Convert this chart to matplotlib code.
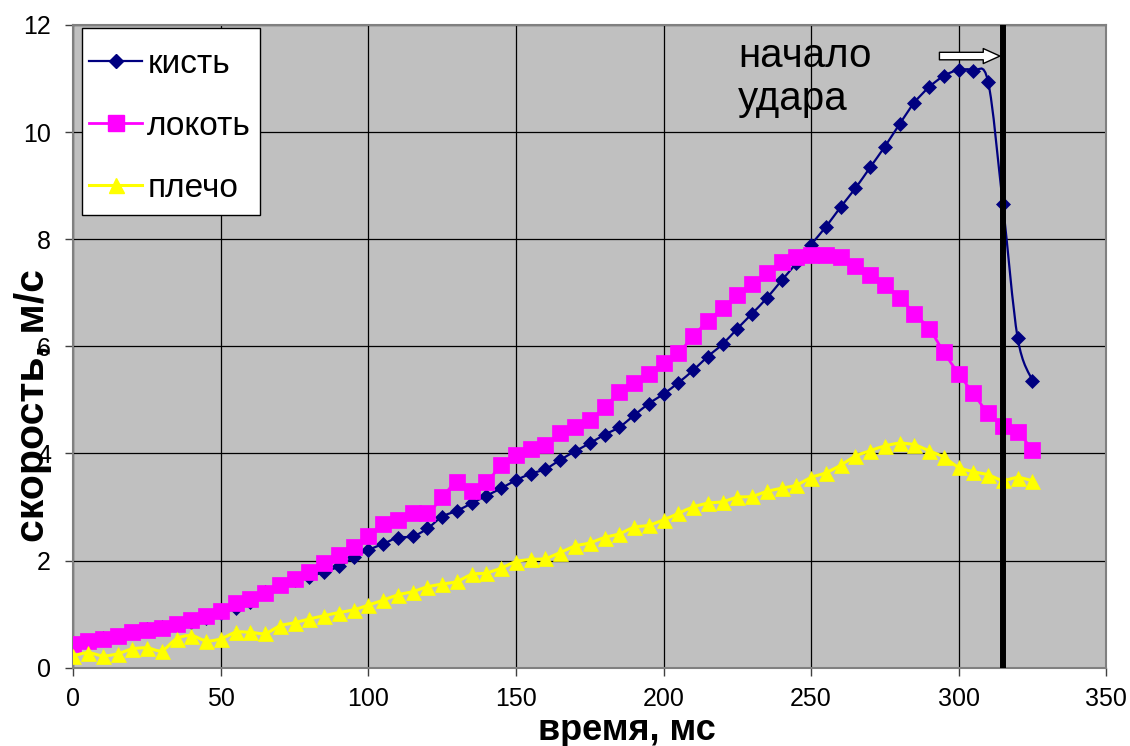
import matplotlib
matplotlib.use('Agg')
import matplotlib.pyplot as plt
from matplotlib.path import Path
from matplotlib.patches import PathPatch, Rectangle
from matplotlib.lines import Line2D

plt.rcParams['font.family'] = ['Liberation Sans', 'DejaVu Sans']

# время, мс (отсчёты через 5 мс)
time_ms = [0, 5, 10, 15, 20, 25, 30, 35, 40, 45, 50, 55, 60, 65, 70, 75, 80, 85, 90, 95,
           100, 105, 110, 115, 120, 125, 130, 135, 140, 145, 150, 155, 160, 165, 170, 175,
           180, 185, 190, 195, 200, 205, 210, 215, 220, 225, 230, 235, 240, 245, 250, 255,
           260, 265, 270, 275, 280, 285, 290, 295, 300, 305, 310, 315, 320, 325]

kist = [0.45, 0.49, 0.56, 0.60, 0.66, 0.72, 0.76, 0.80, 0.86, 0.93, 1.02, 1.11, 1.23, 1.42,
        1.54, 1.64, 1.70, 1.79, 1.89, 2.06, 2.20, 2.31, 2.43, 2.45, 2.60, 2.82, 2.93, 3.07,
        3.21, 3.35, 3.50, 3.62, 3.71, 3.88, 4.04, 4.19, 4.35, 4.49, 4.71, 4.93, 5.11, 5.32,
        5.55, 5.81, 6.04, 6.33, 6.61, 6.90, 7.23, 7.55, 7.90, 8.23, 8.60, 8.95, 9.34, 9.73,
        10.15, 10.55, 10.84, 11.05, 11.16, 11.15, 10.94, 8.65, 6.16, 5.36]

lokot = [0.45, 0.50, 0.54, 0.60, 0.66, 0.70, 0.75, 0.82, 0.89, 0.97, 1.06, 1.21, 1.29, 1.39,
         1.54, 1.65, 1.78, 1.96, 2.10, 2.25, 2.45, 2.69, 2.75, 2.88, 2.88, 3.18, 3.46, 3.29,
         3.46, 3.78, 3.97, 4.09, 4.15, 4.38, 4.50, 4.62, 4.86, 5.14, 5.32, 5.49, 5.69, 5.87,
         6.19, 6.47, 6.71, 6.95, 7.16, 7.36, 7.58, 7.67, 7.70, 7.70, 7.67, 7.50, 7.33, 7.15,
         6.91, 6.61, 6.33, 5.89, 5.49, 5.12, 4.75, 4.52, 4.40, 4.06]

plecho = [0.22, 0.28, 0.22, 0.26, 0.35, 0.37, 0.32, 0.54, 0.60, 0.50, 0.54, 0.66, 0.66, 0.64,
          0.78, 0.84, 0.91, 0.97, 1.03, 1.08, 1.17, 1.26, 1.36, 1.42, 1.51, 1.56, 1.61, 1.74,
          1.77, 1.86, 1.98, 2.02, 2.04, 2.15, 2.27, 2.33, 2.43, 2.50, 2.62, 2.66, 2.76, 2.88,
          3.00, 3.07, 3.10, 3.18, 3.20, 3.29, 3.35, 3.41, 3.55, 3.64, 3.78, 3.95, 4.05, 4.14,
          4.19, 4.16, 4.05, 3.93, 3.74, 3.66, 3.60, 3.50, 3.55, 3.49]

labels = ['кисть', 'локоть', 'плечо']
impact_ms = 315


def smooth_path(xs, ys):
    # сглаженная линия как в Excel (кривые Безье через точки)
    n = len(xs)
    verts = [(xs[0], ys[0])]
    codes = [Path.MOVETO]
    for i in range(n - 1):
        x0, y0 = xs[max(i - 1, 0)], ys[max(i - 1, 0)]
        x1, y1 = xs[i], ys[i]
        x2, y2 = xs[i + 1], ys[i + 1]
        x3, y3 = xs[min(i + 2, n - 1)], ys[min(i + 2, n - 1)]
        verts.append((x1 + (x2 - x0) / 6, y1 + (y2 - y0) / 6))
        verts.append((x2 - (x3 - x1) / 6, y2 - (y3 - y1) / 6))
        verts.append((x2, y2))
        codes += [Path.CURVE4] * 3
    return Path(verts, codes)


fig = plt.figure(figsize=(11.3, 7.46), dpi=100)
ax = fig.add_axes([0.0649, 0.105, 0.914, 0.8615])
ax.set_facecolor('#c0c0c0')

styles = [
    (kist, '#000080', 'D', 7.0, 1.6),
    (lokot, '#ff00ff', 's', 11.0, 2.0),
    (plecho, '#ffff00', '^', 10.8, 2.2),
]
handles = []
for k, (vals, col, mk, ms, lw) in enumerate(styles):
    z = 3 + k
    ax.add_patch(PathPatch(smooth_path(time_ms, vals), fill=False, edgecolor=col,
                           lw=lw, zorder=z))
    ax.plot(time_ms, vals, ls='none', marker=mk, ms=ms, mfc=col, mec=col, mew=0.5,
            zorder=z + 0.1)
    handles.append(Line2D([], [], color=col, lw=lw, marker=mk, ms=ms, mfc=col, mec=col))

ax.axvline(impact_ms, color='black', lw=4.3, zorder=8)

ax.annotate('', xy=(impact_ms - 1, 11.42), xytext=(293.5, 11.42),
            arrowprops=dict(arrowstyle='simple,head_length=1.0,head_width=0.9,tail_width=0.45',
                            mutation_scale=12, fc='white', ec='black', lw=1,
                            shrinkA=0, shrinkB=0), zorder=9)
ax.text(225.2, 11.22, 'начало', fontsize=29, va='baseline', ha='left')
ax.text(225.2, 10.41, 'удара', fontsize=29, va='baseline', ha='left')

ax.set_xlim(0, 350)
ax.set_ylim(0, 12)
ax.set_xticks(range(0, 351, 50))
ax.set_yticks(range(0, 13, 2))
ax.grid(color='black', lw=0.9)
ax.set_axisbelow(True)
for s in ax.spines.values():
    s.set_color('#808080')
    s.set_linewidth(1.5)
ax.tick_params(direction='out', length=6, width=1, color='#404040', labelsize=18)
ax.tick_params(axis='y', pad=10)
ax.tick_params(axis='x', pad=8)

# рамка легенды отдельно, чтобы отступы совпали
ax.add_patch(Rectangle((0.0084, 0.7044), 0.1724, 0.2909, transform=ax.transAxes,
                       facecolor='white', edgecolor='black', lw=1.0, zorder=9.5))
leg = ax.legend(handles, labels, loc='upper left', bbox_to_anchor=(0.0152, 0.9627),
                fontsize=24, frameon=False, borderaxespad=0, borderpad=0,
                handlelength=1.6, handletextpad=0.15, labelspacing=0.93, numpoints=1)
leg.set_zorder(10)

fig.text(627 / 1130, 1 - 730 / 746, 'время, мс', fontsize=26, fontweight='bold',
         ha='center', va='center')
fig.text(33 / 1130, 1 - 406 / 746, 'скорость, м/с', fontsize=29.5, fontweight='bold',
         ha='center', va='center', rotation=90)

fig.savefig('out.png', dpi=100)
